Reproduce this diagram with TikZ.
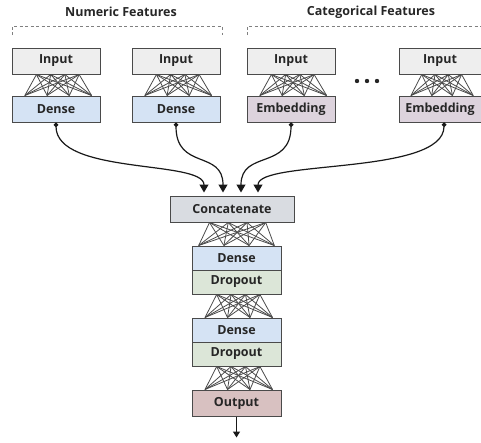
\documentclass[tikz,border=0pt]{standalone}
\usepackage{fontspec}
\setmainfont{Open Sans}
\usetikzlibrary{arrows.meta,calc}
\definecolor{cinput}{HTML}{EEEEEE}
\definecolor{cdense}{HTML}{D5E3F4}
\definecolor{cemb}{HTML}{DDD3DD}
\definecolor{cconcat}{HTML}{D9DCE1}
\definecolor{cdrop}{HTML}{DCE6D8}
\definecolor{cout}{HTML}{D8C1C1}
\definecolor{cline}{HTML}{4A4A4A}
\tikzset{
  layer/.style={draw=cline, line width=1pt, inner sep=0pt, minimum height=26pt,
    font=\fontsize{12.5}{14}\selectfont\bfseries, text=black!85},
  title/.style={font=\fontsize{12.5}{14}\selectfont\bfseries, text=black!85, inner sep=0pt},
  fcline/.style={draw=cline, line width=0.8pt},
  bracket/.style={draw=gray, line width=0.8pt, dash pattern=on 3pt off 2.5pt},
  feed/.style={draw=black!90, line width=1.2pt, {Circle[length=4.5pt]}-{Triangle[width=9pt,length=8pt]}},
  outarrow/.style={draw=black!90, line width=1.2pt, -{Triangle[width=7pt,length=6pt]}}
}
\newcommand{\fullconn}[2]{%
  \foreach \a in {0.28,0.44,0.60,0.76}{%
    \foreach \b in {0.15,0.40,0.65,0.90}{%
      \draw[fcline] ($(#1.south west)!\a!(#1.south east)$) -- ($(#2.north west)!\b!(#2.north east)$);
    }}}
\begin{document}
\begin{tikzpicture}[x=1pt,y=-1pt]
\useasboundingbox (0,0) rectangle (481,442);
% titles and brackets
\node[title] (tnum) at (121,12) {Numeric Features};
\node[title] (tcat) at (371,12) {Categorical Features};
\draw[bracket] (12,35) -- (12,26) -- (222,26) -- (222,35);
\draw[bracket] (247,35) -- (247,26) -- (481,26);
% input branches
\node[layer, fill=cinput, minimum width=88pt] (in1) at (56,61) {Input};
\node[layer, fill=cdense, minimum width=88pt] (d1) at (56,109) {Dense};
\node[layer, fill=cinput, minimum width=88pt] (in2) at (176,61) {Input};
\node[layer, fill=cdense, minimum width=88pt] (d2) at (176,109) {Dense};
\node[layer, fill=cinput, minimum width=88pt] (in3) at (291,61) {Input};
\node[layer, fill=cemb, minimum width=88pt] (e3) at (291,109) {Embedding};
\node[layer, fill=cinput, minimum width=82pt] (in4) at (440,61) {Input};
\node[layer, fill=cemb, minimum width=82pt] (e4) at (440,109) {Embedding};
\fill[black!85] (357,81) circle (2.2pt) (367,81) circle (2.2pt) (377,81) circle (2.2pt);
\fullconn{in1}{d1}
\fullconn{in2}{d2}
\fullconn{in3}{e3}
\fullconn{in4}{e4}
% central stack
\node[layer, fill=cconcat, minimum width=124pt] (cat) at (232,209) {Concatenate};
\node[layer, fill=cdense, minimum width=89pt, minimum height=24pt] (d5) at (236.5,258) {Dense};
\node[layer, fill=cdrop, minimum width=89pt, minimum height=24pt] (p5) at (236.5,282) {Dropout};
\node[layer, fill=cdense, minimum width=89pt, minimum height=24pt] (d6) at (236.5,330) {Dense};
\node[layer, fill=cdrop, minimum width=89pt, minimum height=24pt] (p6) at (236.5,354) {Dropout};
\node[layer, fill=cout, minimum width=89pt] (out) at (236.5,403) {Output};
\foreach \a in {0.32,0.47,0.62,0.77}{%
  \foreach \b in {0.08,0.36,0.64,0.92}{%
    \draw[fcline] ($(cat.south west)!\a!(cat.south east)$) -- ($(d5.north west)!\b!(d5.north east)$);
  }}
\fullconn{p5}{d6}
\fullconn{p6}{out}
% feed connectors
\coordinate (t1) at ($(cat.north)+(-28,-3)$);
\coordinate (t2) at ($(cat.north)+(-9,-3)$);
\coordinate (t3) at ($(cat.north)+(9,-3)$);
\coordinate (t4) at ($(cat.north)+(26,-3)$);
\draw[feed] (d1.south) .. controls +(0,53) and +(0,-33) .. (t1);
\draw[feed] (d2.south) .. controls +(0,48) and +(0,-43) .. (t2);
\draw[feed] (e3.south) .. controls +(0,48) and +(0,-43) .. (t3);
\draw[feed] ([xshift=4pt]e4.south) .. controls +(0,53) and +(0,-33) .. (t4);
\coordinate (end) at ($(out.south)+(0,21)$);
\draw[outarrow] (out.south) -- (end);
\end{tikzpicture}
\end{document}
